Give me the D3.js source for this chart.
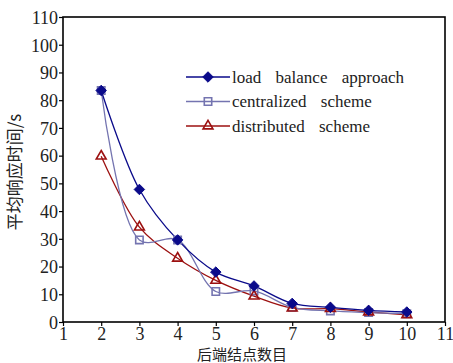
<!DOCTYPE html>
<html>
<head>
<meta charset="utf-8">
<script src="https://cdn.jsdelivr.net/npm/d3@7"></script>
<style>
    body { margin: 0; background: #fff; }
    svg { display: block; }
</style>
</head>
<body>
<div id="chart"></div>
<script>
    // values
    var nodes = [2, 3, 4, 5, 6, 7, 8, 9, 10];
    var loadBalance = [83.5, 47.8, 29.6, 18, 13, 6.7, 5.3, 4.2, 3.6];
    var centralized = [83.5, 29.6, 29.6, 11, 11.2, 5.3, 4, 3.4, 3];
    var distributed = [59.8, 34.2, 23, 15, 9.3, 5, 4.8, 3.6, 2.6];
    var xTicks = [1, 2, 3, 4, 5, 6, 7, 8, 9, 10, 11];
    var yTicks = [0, 10, 20, 30, 40, 50, 60, 70, 80, 90, 100, 110];
    var seriesNames = ['load balance approach', 'centralized scheme', 'distributed scheme'];

    var W = 453, H = 363;
    var m = {left: 63, right: 8, top: 17, bottom: 41};

    var svg = d3.select('#chart').append('svg')
        .attr('width', W)
        .attr('height', H);

    var x = d3.scaleLinear().domain([1, 11]).range([m.left, W - m.right]);
    var y = d3.scaleLinear().domain([0, 110]).range([H - m.bottom, m.top]);

    var font = '"Liberation Serif", "Times New Roman", serif';

    var series = [
        {name: seriesNames[0], values: loadBalance, color: '#0a0a8a', marker: 'diamond'},
        {name: seriesNames[1], values: centralized, color: '#7474b0', marker: 'square'},
        {name: seriesNames[2], values: distributed, color: '#9c1010', marker: 'triangle'},
    ];

    // axes
    var xAxis = svg.append('g')
        .attr('transform', 'translate(0,' + (H - m.bottom) + ')')
        .call(d3.axisBottom(x).tickValues(xTicks).tickSize(4).tickSizeOuter(0));
    var yAxis = svg.append('g')
        .attr('transform', 'translate(' + m.left + ',0)')
        .call(d3.axisLeft(y).tickValues(yTicks).tickSize(4).tickSizeOuter(0));

    [xAxis, yAxis].forEach(function(g) {
        g.select('.domain').remove();
        g.selectAll('line').attr('stroke', '#000').attr('stroke-width', 1.2);
        g.selectAll('text')
            .attr('fill', '#222')
            .style('font-family', font)
            .style('font-size', '18px');
    });
    xAxis.selectAll('text').attr('dy', '0.8em').attr('y', 4);
    yAxis.selectAll('text').attr('x', -5).attr('dy', '0.35em');

    // frame
    svg.append('rect')
        .attr('x', m.left)
        .attr('y', m.top)
        .attr('width', W - m.right - m.left)
        .attr('height', H - m.bottom - m.top)
        .attr('fill', 'none')
        .attr('stroke', '#000')
        .attr('stroke-width', 1.6);

    var line = d3.line()
        .x((d, i) => x(nodes[i]))
        .y(d => y(d))
        .curve(d3.curveCatmullRom.alpha(0.5));

    var symbols = {
        diamond: d3.symbol().type(d3.symbolDiamond2).size(70),
        square: d3.symbol().type(d3.symbolSquare2).size(70),
        triangle: d3.symbol().type(d3.symbolTriangle2).size(70),
    };

    function drawMarker(g, s, cx, cy) {
        var p = g.append('path')
            .attr('d', symbols[s.marker]())
            .attr('transform', 'translate(' + cx + ',' + cy + ')');
        if (s.marker == 'diamond')
            p.attr('fill', s.color).attr('stroke', s.color).attr('stroke-width', 1);
        else
            p.attr('fill', 'none').attr('stroke', s.color).attr('stroke-width', 1.6);
        return p;
    }

    var plot = svg.append('g');
    // draw in reverse so load balance sits on top
    series.slice().reverse().forEach(function(s) {
        plot.append('path')
            .datum(s.values)
            .attr('d', line)
            .attr('fill', 'none')
            .attr('stroke', s.color)
            .attr('stroke-width', 1.3);
    });
    [series[1], series[2], series[0]].forEach(function(s) {
        s.values.forEach(function(v, i) {
            drawMarker(plot, s, x(nodes[i]), y(v));
        });
    });

    // legend
    var legend = svg.append('g');
    series.forEach(function(s, i) {
        var ly = 77 + i * 24.5;
        legend.append('line')
            .attr('x1', 186).attr('x2', 230)
            .attr('y1', ly).attr('y2', ly)
            .attr('stroke', s.color)
            .attr('stroke-width', 1.3);
        drawMarker(legend, s, 208, ly);
        legend.append('text')
            .attr('x', 232)
            .attr('y', ly)
            .attr('dy', '0.33em')
            .attr('fill', '#222')
            .style('font-family', font)
            .style('font-size', '17px')
            .style('word-spacing', '10px')
            .text(s.name);
    });

    // axis titles
    svg.append('text')
        .attr('x', 242)
        .attr('y', 360)
        .attr('text-anchor', 'middle')
        .attr('fill', '#222')
        .style('font-family', '"Noto Sans CJK SC", sans-serif')
        .style('font-size', '15px')
        .text('后端结点数目');

    svg.append('text')
        .attr('transform', 'translate(21,' + 172 + ') rotate(-90)')
        .attr('text-anchor', 'middle')
        .attr('fill', '#222')
        .style('font-family', '"Noto Sans CJK SC", sans-serif')
        .style('font-size', '17px')
        .text('平均响应时间/s');
</script>
</body>
</html>
